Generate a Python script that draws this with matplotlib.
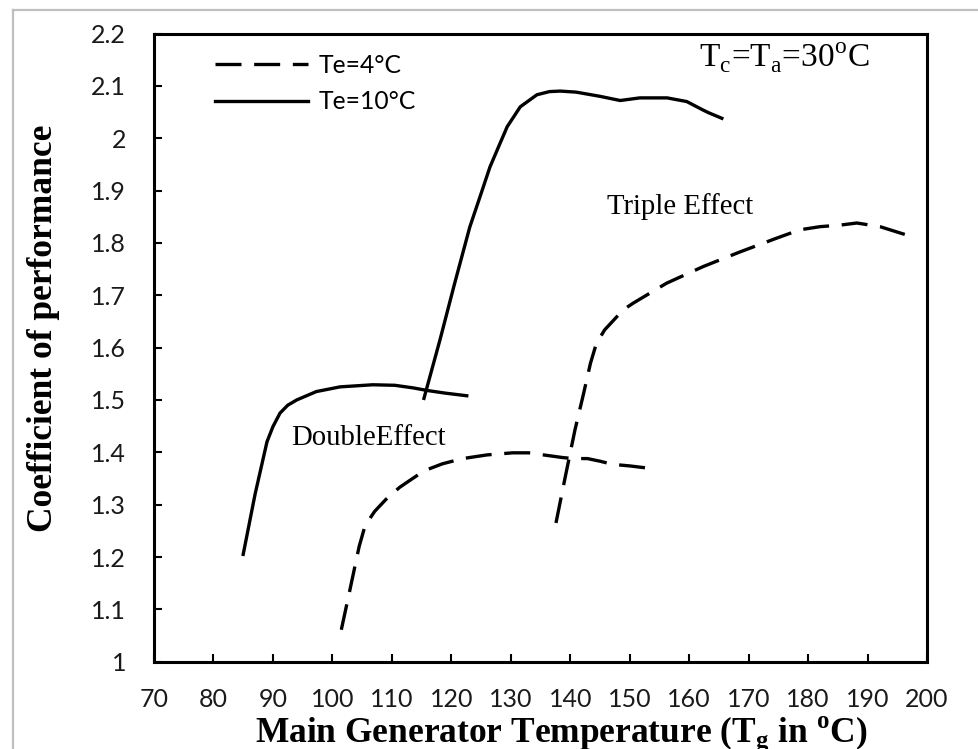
import matplotlib
matplotlib.use("Agg")
import matplotlib.pyplot as plt
from matplotlib.lines import Line2D

# COP vs. main generator temperature, Tc = Ta = 30 C
te10_double_x = [85.0, 87.0, 89.0, 90.0, 91.2, 92.5, 94.0, 97.3, 101.3, 106.8, 110.5, 113.6, 116.0, 119.0, 122.6]
te10_double_y = [1.205, 1.32, 1.42, 1.449, 1.475, 1.490, 1.500, 1.516, 1.525, 1.529, 1.528, 1.523, 1.518, 1.513, 1.508]

te10_triple_x = [115.4, 118.1, 120.5, 123.1, 125.0, 126.5, 128.0, 129.4, 131.6, 134.4, 136.5, 138.3, 141.0,
                 143.5, 145.0, 148.4, 151.7, 156.3, 159.6, 162.3, 163.2, 165.5]
te10_triple_y = [1.503, 1.615, 1.72, 1.830, 1.894, 1.945, 1.985, 2.022, 2.060, 2.083, 2.089, 2.090, 2.088,
                 2.083, 2.080, 2.072, 2.077, 2.077, 2.070, 2.054, 2.049, 2.038]

te4_double_x = [101.5, 103.0, 104.5, 105.5, 107.1, 109.0, 111.3, 113.5, 115.5, 118.5, 121.9, 126.0, 130.3,
                133.0, 135.5, 138.7, 140.5, 142.9, 145.0, 147.1, 150.0, 152.9]
te4_double_y = [1.061, 1.14, 1.22, 1.26, 1.287, 1.31, 1.333, 1.35, 1.365, 1.378, 1.388, 1.395, 1.399,
                1.399, 1.395, 1.390, 1.388, 1.388, 1.383, 1.377, 1.374, 1.370]

te4_triple_x = [137.6, 139.2, 140.8, 142.2, 143.4, 144.4, 145.8, 148.9, 150.6, 156.2, 162.4, 168.6, 174.7,
                178.6, 182.0, 185.4, 188.2, 192.1, 196.6]
te4_triple_y = [1.265, 1.355, 1.443, 1.51, 1.57, 1.608, 1.634, 1.672, 1.685, 1.723, 1.755, 1.783, 1.809,
                1.825, 1.831, 1.834, 1.838, 1.831, 1.815]

x_ticks = list(range(70, 201, 10))
y_ticks = [1, 1.1, 1.2, 1.3, 1.4, 1.5, 1.6, 1.7, 1.8, 1.9, 2, 2.1, 2.2]
y_tick_labels = ["1", "1.1", "1.2", "1.3", "1.4", "1.5", "1.6", "1.7", "1.8", "1.9", "2", "2.1", "2.2"]

W, H = 979, 749
fig = plt.figure(figsize=(W / 100, H / 100), dpi=100)
ax = fig.add_axes([154 / W, 1 - 661.7 / H, (927 - 154) / W, (661.7 - 33.5) / H])

lw = 2.4
dash = (0, (7.8, 3.8))
ax.plot(te4_double_x, te4_double_y, color="black", lw=lw, linestyle=dash, label="Te=4°C")
ax.plot(te10_double_x, te10_double_y, color="black", lw=lw, label="Te=10°C")
ax.plot(te4_triple_x, te4_triple_y, color="black", lw=lw, linestyle=dash)
ax.plot(te10_triple_x, te10_triple_y, color="black", lw=lw)

ax.set_xlim(70, 200)
ax.set_ylim(1, 2.2)
ax.set_xticks(x_ticks)
ax.set_xticklabels([str(v) for v in x_ticks])
ax.set_yticks(y_ticks)
ax.set_yticklabels(y_tick_labels)

tick_font = "Lato"
for lab in ax.get_xticklabels() + ax.get_yticklabels():
    lab.set_fontfamily(tick_font)
    lab.set_fontsize(18)
    lab.set_color("#1a1a1a")
ax.tick_params(axis="both", direction="in", length=5.5, width=1.5, pad=20)
ax.tick_params(axis="x", pad=19)
for s in ax.spines.values():
    s.set_linewidth(2.2)

ax.set_xlabel("Main Generator Temperature (T$_\\mathregular{g}$ in $^\\mathregular{o}$C)",
              fontfamily="Liberation Serif", fontweight="bold", fontsize=25.5)
ax.xaxis.set_label_coords(0.527, -0.084)
ax.set_ylabel("Coefficient of performance", fontfamily="Liberation Serif",
              fontweight="bold", fontsize=25.5)
ax.yaxis.set_label_coords(-0.121, 0.531)

leg = ax.legend(loc="upper left", bbox_to_anchor=(0.079, 0.968), frameon=False,
                prop={"family": tick_font, "size": 17.7}, handlelength=3.8,
                handletextpad=0.4, labelspacing=0.55, borderpad=0, borderaxespad=0)

ax.text(0.705, 0.961, "T$_\\mathregular{c}$=T$_\\mathregular{a}$=30$^\\mathregular{o}$C",
        transform=ax.transAxes, fontfamily="Liberation Serif", fontsize=24,
        ha="left", va="center")
ax.text(0.586, 0.724, "Triple Effect", transform=ax.transAxes,
        fontfamily="Liberation Serif", fontsize=20.7, ha="left", va="center")
ax.text(0.178, 0.356, "DoubleEffect", transform=ax.transAxes,
        fontfamily="Liberation Serif", fontsize=20.7, ha="left", va="center")

# light grey outer frame (left and top edges)
fig.add_artist(Line2D([13.5 / W, 13.5 / W], [0, 1 - 9.5 / H], transform=fig.transFigure,
                      color="#bfbfbf", lw=1.6))
fig.add_artist(Line2D([13.5 / W, 1], [1 - 9.5 / H, 1 - 9.5 / H], transform=fig.transFigure,
                      color="#bfbfbf", lw=1.6))

fig.savefig("out.png", dpi=100)
